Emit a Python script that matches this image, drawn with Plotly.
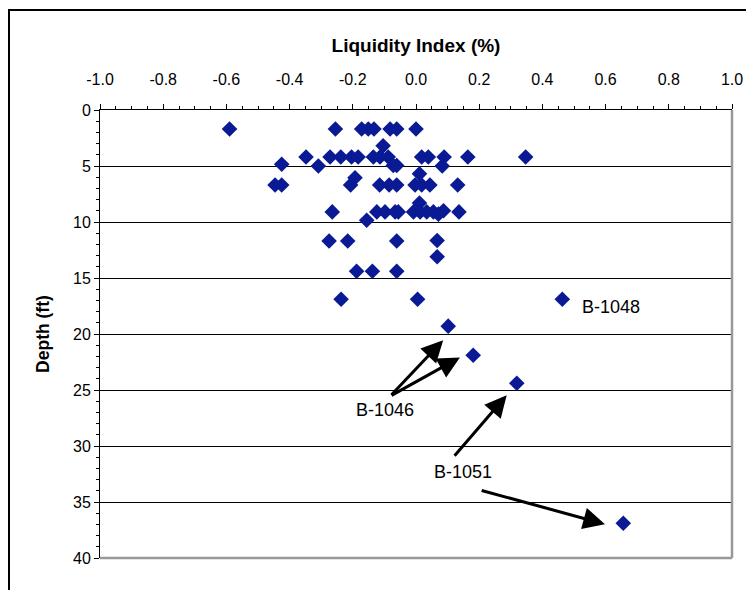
import plotly.graph_objects as go

# Liquidity index (x) and depth in ft (y)
liquidity_index = [
    -0.59, -0.255, -0.172, -0.151, -0.133, -0.082, -0.061, 0.0,
    -0.104,
    -0.348, -0.272, -0.238, -0.204, -0.183, -0.135, -0.114, -0.088, 0.018, 0.039, 0.089, 0.164, 0.347,
    -0.425,
    -0.309, -0.072, -0.061, 0.083,
    0.011,
    -0.193,
    -0.446, -0.425, -0.207, -0.115, -0.085, -0.061, -0.003, 0.018, 0.044, 0.132,
    0.011,
    -0.265, -0.124, -0.098, -0.066, -0.056, -0.008, 0.013, 0.034, 0.055, 0.087, 0.136,
    0.071,
    -0.156,
    -0.275, -0.216, -0.061, 0.067,
    0.067,
    -0.188, -0.138, -0.061,
    -0.237, 0.005, 0.463,
    0.102,
    0.181,
    0.319,
    0.656,
]
depth_ft = [
    1.7, 1.7, 1.7, 1.7, 1.7, 1.7, 1.7, 1.7,
    3.2,
    4.2, 4.2, 4.2, 4.2, 4.2, 4.2, 4.2, 4.2, 4.2, 4.2, 4.2, 4.2, 4.2,
    4.85,
    5.0, 4.95, 4.95, 5.0,
    5.7,
    6.05,
    6.7, 6.7, 6.7, 6.7, 6.7, 6.7, 6.7, 6.7, 6.7, 6.7,
    8.3,
    9.1, 9.1, 9.1, 9.1, 9.1, 9.1, 9.1, 9.1, 9.1, 9.0, 9.1,
    9.3,
    9.84,
    11.7, 11.7, 11.7, 11.65,
    13.1,
    14.4, 14.4, 14.4,
    16.9, 16.9, 16.9,
    19.3,
    21.9,
    24.4,
    36.9,
]

x_ticks = [-1.0, -0.8, -0.6, -0.4, -0.2, 0.0, 0.2, 0.4, 0.6, 0.8, 1.0]
x_tick_labels = ["-1.0", "-0.8", "-0.6", "-0.4", "-0.2", "0.0", "0.2", "0.4", "0.6", "0.8", "1.0"]
y_ticks = [0, 5, 10, 15, 20, 25, 30, 35, 40]

# Labels and arrows: (text, x, y)
labels = [("B-1046", -0.098, 26.8), ("B-1051", 0.149, 32.3)]
label_1048 = ("B-1048", 0.519, 17.6)
# arrows: (head_x, head_y, tail_x, tail_y)
arrows = [
    (0.086, 20.55, -0.082, 25.55),
    (0.139, 22.09, -0.082, 25.55),
    (0.287, 25.47, 0.118, 31.0),
    (0.598, 36.98, 0.203, 33.93),
]

FONT = "Liberation Sans, Arial, sans-serif"

fig = go.Figure()
fig.add_trace(go.Scatter(
    x=liquidity_index, y=depth_ft, mode="markers",
    marker=dict(symbol="diamond", size=12, color="#0A1A94", line=dict(width=0)),
    showlegend=False, hoverinfo="x+y",
))

annotations = []
for t, x, y in labels:
    annotations.append(dict(x=x, y=y, xref="x", yref="y", text=t, showarrow=False,
                            font=dict(size=18, color="black", family=FONT)))
annotations.append(dict(x=label_1048[1], y=label_1048[2], xref="x", yref="y", text=label_1048[0],
                        showarrow=False, xanchor="left",
                        font=dict(size=18, color="black", family=FONT)))
for hx, hy, tx, ty in arrows:
    annotations.append(dict(x=hx, y=hy, ax=tx, ay=ty, xref="x", yref="y", axref="x", ayref="y",
                            text="", showarrow=True, arrowhead=2, arrowsize=1.45, arrowwidth=3,
                            arrowcolor="black", standoff=0, startstandoff=0))

shapes = [
    # outer chart frame (left & top visible)
    dict(type="rect", xref="paper", yref="paper", x0=-0.144, x1=1.08, y0=-0.12, y1=1.2232,
         line=dict(color="black", width=2), layer="below"),
    # plot-area right and bottom border (gray)
    dict(type="line", xref="paper", yref="paper", x0=1, x1=1, y0=0, y1=1,
         line=dict(color="#999999", width=2.5)),
    dict(type="line", xref="paper", yref="paper", x0=0, x1=1, y0=0, y1=0,
         line=dict(color="#999999", width=2.5)),
]

fig.update_layout(
    width=746, height=582,
    margin=dict(l=92, r=22, t=102, b=32),
    paper_bgcolor="white", plot_bgcolor="white",
    font=dict(family=FONT, size=16, color="black"),
    annotations=annotations,
    shapes=shapes,
    xaxis=dict(
        side="top", range=[-1, 1], tickvals=x_ticks, ticktext=x_tick_labels,
        showline=True, linecolor="black", linewidth=1,
        ticks="outside", ticklen=5, tickcolor="black",
        minor=dict(dtick=0.05, ticks="outside", ticklen=3, tickcolor="black"),
        showgrid=False, zeroline=False, ticklabelstandoff=13,
        title=dict(text="<b>Liquidity Index (%)</b>", font=dict(size=19, family=FONT), standoff=12),
        tickfont=dict(size=16, family=FONT),
    ),
    yaxis=dict(
        range=[40, 0], tickvals=y_ticks,
        showline=True, linecolor="black", linewidth=1,
        ticks="outside", ticklen=5, tickcolor="black",
        minor=dict(dtick=1, ticks="outside", ticklen=3, tickcolor="black", showgrid=False),
        showgrid=True, gridcolor="black", gridwidth=1, zeroline=False,
        title=dict(text="<b>Depth (ft)</b>", font=dict(size=17.5, family=FONT), standoff=18),
        tickfont=dict(size=16, family=FONT),
    ),
)

fig.write_html("out.html")
